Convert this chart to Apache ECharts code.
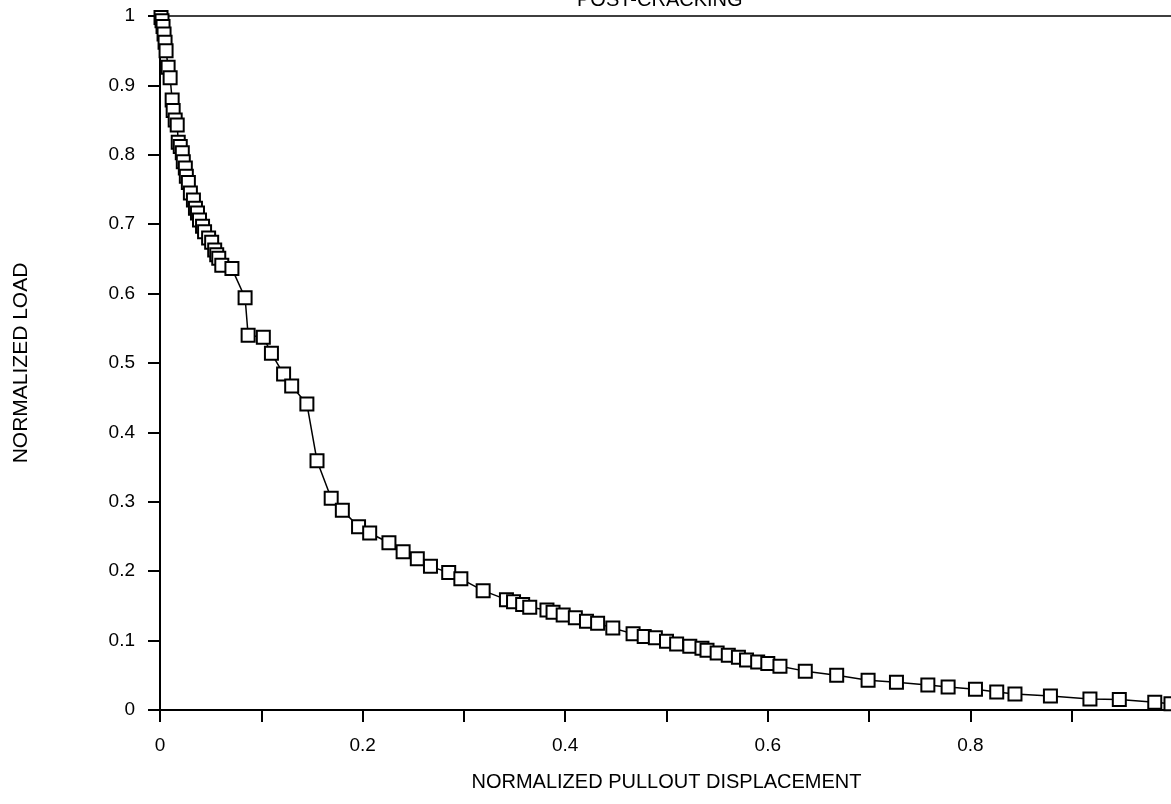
<!DOCTYPE html>
<html>
<head>
<meta charset="utf-8">
<script src="https://cdn.jsdelivr.net/npm/echarts@6/dist/echarts.min.js"></script>
<style>
  html, body { margin: 0; padding: 0; background: #fff; }
  #chart { width: 1171px; height: 804px; }
</style>
</head>
<body>
<div id="chart"></div>
<script>
// Normalized pullout displacement (x) and normalized load (y), post-cracking
const displacement = [
  0.001, 0.002, 0.003, 0.004, 0.005, 0.006, 0.008, 0.010, 0.012, 0.013,
  0.015, 0.017, 0.018, 0.020, 0.022, 0.023, 0.025, 0.026, 0.028, 0.030,
  0.033, 0.035, 0.037, 0.039, 0.042, 0.044, 0.048, 0.051, 0.054, 0.056,
  0.058, 0.061, 0.071, 0.084, 0.087, 0.102, 0.110, 0.122, 0.130, 0.145,
  0.155, 0.169, 0.180, 0.196, 0.207, 0.226, 0.240, 0.254, 0.267, 0.285,
  0.297, 0.319, 0.342, 0.349, 0.358, 0.365, 0.382, 0.388, 0.398, 0.410,
  0.421, 0.432, 0.447, 0.467, 0.478, 0.489, 0.500, 0.510, 0.523, 0.535,
  0.540, 0.550, 0.561, 0.571, 0.579, 0.590, 0.600, 0.612, 0.637, 0.668,
  0.699, 0.727, 0.758, 0.778, 0.805, 0.826, 0.844, 0.879, 0.918, 0.947,
  0.982, 0.998
];
const load = [
  0.998, 0.993, 0.985, 0.974, 0.962, 0.950, 0.926, 0.911, 0.879, 0.864,
  0.850, 0.843, 0.818, 0.812, 0.803, 0.790, 0.781, 0.769, 0.760, 0.745,
  0.735, 0.723, 0.716, 0.706, 0.697, 0.689, 0.680, 0.674, 0.663, 0.656,
  0.651, 0.641, 0.636, 0.594, 0.540, 0.537, 0.514, 0.484, 0.467, 0.441,
  0.359, 0.305, 0.288, 0.264, 0.255, 0.241, 0.228, 0.218, 0.207, 0.198,
  0.189, 0.172, 0.159, 0.156, 0.152, 0.148, 0.144, 0.141, 0.137, 0.133,
  0.128, 0.125, 0.118, 0.110, 0.106, 0.104, 0.099, 0.095, 0.092, 0.089,
  0.086, 0.082, 0.079, 0.076, 0.072, 0.069, 0.067, 0.063, 0.056, 0.050,
  0.043, 0.040, 0.036, 0.033, 0.030, 0.026, 0.023, 0.020, 0.016, 0.015,
  0.011, 0.009
];
const xLabels = ['0', '0.2', '0.4', '0.6', '0.8'];
const yLabels = ['0', '0.1', '0.2', '0.3', '0.4', '0.5', '0.6', '0.7', '0.8', '0.9', '1'];

const points = displacement.map((x, i) => [x, load[i]]);
const FONT = 'Liberation Sans, Arial, sans-serif';
const INK = '#000';

const chart = echarts.init(document.getElementById('chart'), null, { renderer: 'canvas' });
chart.setOption({
  backgroundColor: '#fff',
  animation: false,
  title: {
    text: 'POST-CRACKING',
    left: 572,
    top: -15,
    textStyle: { fontFamily: FONT, fontSize: 20, fontWeight: 'normal', color: INK }
  },
  grid: {
    left: 160, width: 1013, top: 16, height: 694,
    outerBoundsMode: 'none',
    show: true, borderColor: INK, borderWidth: 1.5, backgroundColor: 'transparent'
  },
  xAxis: {
    type: 'value', min: 0, max: 1, interval: 0.1,
    name: 'NORMALIZED PULLOUT DISPLACEMENT',
    nameLocation: 'middle', nameGap: 62,
    nameTextStyle: { fontFamily: FONT, fontSize: 20, color: INK },
    axisLine: { show: true, lineStyle: { color: INK, width: 2 } },
    axisTick: { show: true, inside: false, length: 12, lineStyle: { color: INK, width: 2 } },
    splitLine: { show: false },
    axisLabel: {
      margin: 26, fontFamily: FONT, fontSize: 19, color: INK,
      formatter: v => {
        const s = String(Math.round(v * 10) / 10);
        return xLabels.includes(s) ? s : '';
      }
    }
  },
  yAxis: {
    type: 'value', min: 0, max: 1, interval: 0.1,
    name: 'NORMALIZED LOAD',
    nameLocation: 'middle', nameGap: 128, nameRotate: 90,
    nameTextStyle: { fontFamily: FONT, fontSize: 21, color: INK },
    axisLine: { show: true, lineStyle: { color: INK, width: 2 } },
    axisTick: { show: true, inside: false, length: 12, lineStyle: { color: INK, width: 2 } },
    splitLine: { show: false },
    axisLabel: {
      margin: 25, fontFamily: FONT, fontSize: 19, color: INK,
      formatter: v => yLabels[Math.round(v * 10)]
    }
  },
  series: [{
    type: 'line',
    data: points,
    showAllSymbol: true,
    symbol: 'rect',
    symbolSize: 13,
    clip: false,
    lineStyle: { color: INK, width: 1.5 },
    itemStyle: { color: '#fff', borderColor: INK, borderWidth: 2 }
  }]
});
</script>
</body>
</html>
